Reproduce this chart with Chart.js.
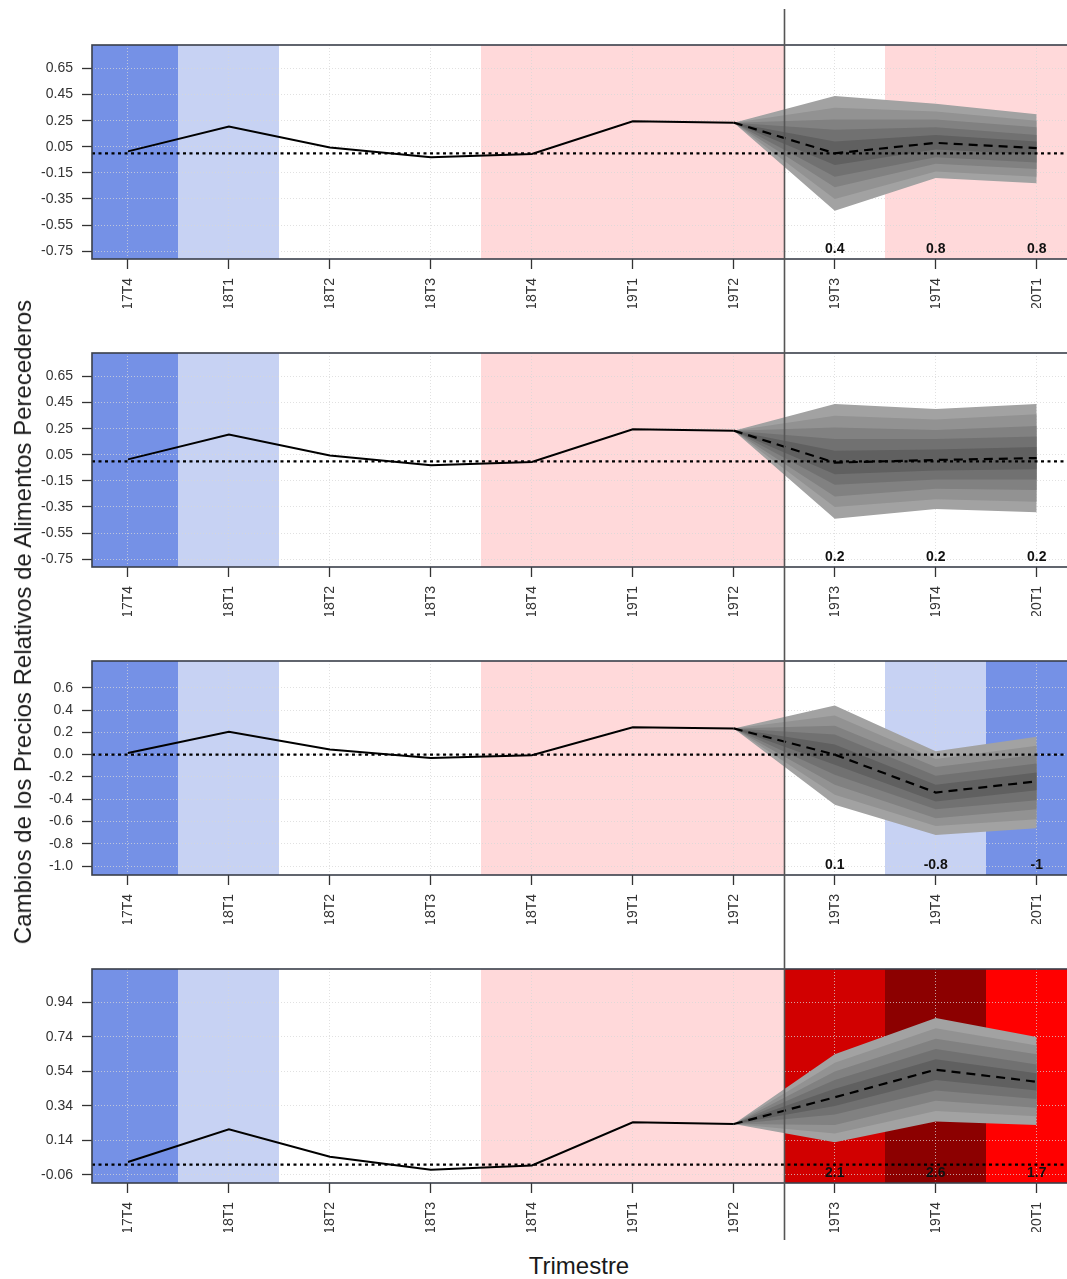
<!DOCTYPE html>
<html>
<head>
<meta charset="utf-8">
<script src="https://cdn.jsdelivr.net/npm/chart.js@4.4.1/dist/chart.umd.min.js"></script>
<style>
  body { margin: 0; background: #fff; width: 1067px; height: 1279px; position: relative; overflow: hidden; font-family: 'Liberation Sans', Arial, sans-serif; }
  .panel { position: absolute; left: 0; width: 1067px; }
  #ytitle { position: absolute; left: 23px; top: 622px; transform: translate(-50%, -50%) rotate(-90deg); font-size: 24px; white-space: nowrap; color: #1a1a1a; }
  #xtitle { position: absolute; left: 579px; top: 1266px; transform: translate(-50%, -50%); font-size: 24px; color: #1a1a1a; }
</style>
</head>
<body>
<div class="panel" style="top:0px"><canvas id="c1" width="1067" height="308"></canvas></div>
<div class="panel" style="top:308px"><canvas id="c2" width="1067" height="308"></canvas></div>
<div class="panel" style="top:616px"><canvas id="c3" width="1067" height="308"></canvas></div>
<div class="panel" style="top:924px"><canvas id="c4" width="1067" height="320"></canvas></div>
<div id="ytitle">Cambios de los Precios Relativos de Alimentos Perecederos</div>
<div id="xtitle">Trimestre</div>
<script>
// quarters on the x axis
const quarters = ['17T4', '18T1', '18T2', '18T3', '18T4', '19T1', '19T2', '19T3', '19T4', '20T1'];
// observed values 17T4..19T2 (same in all panels)
const history = [0.015, 0.205, 0.045, -0.03, -0.005, 0.245, 0.235];
// forecast points are 19T2..20T1
const forecastX = [6, 7, 8, 9];

// panel 1  (fan bands: outer -> inner)
const p1Median = [0.235, 0.00, 0.08, 0.04];
const p1Upper = [
  [0.235, 0.44, 0.38, 0.30],
  [0.235, 0.35, 0.32, 0.25],
  [0.235, 0.26, 0.26, 0.20],
  [0.235, 0.18, 0.20, 0.14],
  [0.235, 0.09, 0.14, 0.09]
];
const p1Lower = [
  [0.235, -0.44, -0.19, -0.23],
  [0.235, -0.35, -0.14, -0.18],
  [0.235, -0.26, -0.08, -0.12],
  [0.235, -0.18, -0.03, -0.07],
  [0.235, -0.09, 0.03, -0.01]
];
const p1Bands = ['azul', 'celeste', '', '', 'rosa', 'rosa', 'rosa', '', 'rosa', 'rosa'];
const p1Labels = ['0.4', '0.8', '0.8'];

// panel 2
const p2Median = [0.235, -0.01, 0.01, 0.025];
const p2Upper = [
  [0.235, 0.44, 0.40, 0.44],
  [0.235, 0.35, 0.32, 0.36],
  [0.235, 0.26, 0.24, 0.27],
  [0.235, 0.17, 0.17, 0.19],
  [0.235, 0.08, 0.09, 0.11]
];
const p2Lower = [
  [0.235, -0.44, -0.365, -0.39],
  [0.235, -0.35, -0.29, -0.31],
  [0.235, -0.27, -0.21, -0.22],
  [0.235, -0.18, -0.14, -0.14],
  [0.235, -0.10, -0.07, -0.06]
];
const p2Bands = ['azul', 'celeste', '', '', 'rosa', 'rosa', 'rosa', '', '', ''];
const p2Labels = ['0.2', '0.2', '0.2'];

// panel 3
const p3Median = [0.235, 0.00, -0.34, -0.24];
const p3Upper = [
  [0.235, 0.44, 0.03, 0.16],
  [0.235, 0.35, -0.04, 0.08],
  [0.235, 0.26, -0.11, 0.00],
  [0.235, 0.18, -0.19, -0.08],
  [0.235, 0.09, -0.27, -0.16]
];
const p3Lower = [
  [0.235, -0.45, -0.72, -0.66],
  [0.235, -0.36, -0.64, -0.58],
  [0.235, -0.27, -0.57, -0.49],
  [0.235, -0.18, -0.49, -0.41],
  [0.235, -0.09, -0.42, -0.32]
];
const p3Bands = ['azul', 'celeste', '', '', 'rosa', 'rosa', 'rosa', '', 'celeste', 'azul'];
const p3Labels = ['0.1', '-0.8', '-1'];

// panel 4
const p4Median = [0.235, 0.39, 0.55, 0.48];
const p4Upper = [
  [0.235, 0.64, 0.85, 0.74],
  [0.235, 0.59, 0.79, 0.69],
  [0.235, 0.54, 0.73, 0.64],
  [0.235, 0.49, 0.67, 0.58],
  [0.235, 0.44, 0.61, 0.53]
];
const p4Lower = [
  [0.235, 0.13, 0.25, 0.23],
  [0.235, 0.18, 0.31, 0.28],
  [0.235, 0.23, 0.37, 0.33],
  [0.235, 0.29, 0.43, 0.38],
  [0.235, 0.34, 0.49, 0.43]
];
const p4Bands = ['azul', 'celeste', '', '', 'rosa', 'rosa', 'rosa', 'rojo', 'granate', 'rojoVivo'];
const p4Labels = ['2.1', '2.6', '1.7'];

// y axes
const ticks12 = [0.65, 0.45, 0.25, 0.05, -0.15, -0.35, -0.55, -0.75];
const ticks3 = [0.6, 0.4, 0.2, 0.0, -0.2, -0.4, -0.6, -0.8, -1.0];
const ticks4 = [0.94, 0.74, 0.54, 0.34, 0.14, -0.06];

const bandColors = {
  azul: '#7591e6', celeste: '#c7d2f3', rosa: '#ffd9da',
  rojo: '#d10000', granate: '#8c0000', rojoVivo: '#ff0000'
};
const fanShades = ['#a2a2a2', '#929292', '#818181', '#717171', '#606060'];
const gridColor = 'rgba(215,215,215,0.75)';

Chart.defaults.font.family = "'Liberation Sans', Arial, sans-serif";
Chart.defaults.color = '#333';

const decor = {
  id: 'decor',
  beforeDraw(chart, args, o) {
    const { ctx, chartArea: a, scales: { x } } = chart;
    ctx.save();
    o.bands.forEach((b, i) => {
      if (!bandColors[b]) return;
      const l = Math.max(a.left, Math.round(x.getPixelForValue(i - 0.5)));
      const r = Math.min(a.right, Math.round(x.getPixelForValue(i + 0.5)));
      ctx.fillStyle = bandColors[b];
      ctx.fillRect(l, a.top, r - l, a.bottom - a.top);
    });
    ctx.restore();
  },
  afterDatasetsDraw(chart) {
    const { ctx, chartArea: a, scales: { y } } = chart;
    const y0 = y.getPixelForValue(0);
    ctx.save();
    ctx.strokeStyle = '#000';
    ctx.lineWidth = 2.2;
    ctx.setLineDash([3, 3.5]);
    ctx.beginPath();
    ctx.moveTo(a.left, y0);
    ctx.lineTo(a.right, y0);
    ctx.stroke();
    ctx.restore();
  },
  afterDraw(chart, args, o) {
    const { ctx, chartArea: a, scales: { x } } = chart;
    ctx.save();
    // plot box (open on the right, cut by the image edge)
    ctx.strokeStyle = '#3a3f4a';
    ctx.lineWidth = 1.6;
    ctx.strokeRect(a.left, a.top, a.right - a.left + 10, a.bottom - a.top);
    // numbers above the axis for the forecast quarters
    ctx.fillStyle = '#111';
    ctx.font = "bold 14px 'Liberation Sans', Arial, sans-serif";
    ctx.textAlign = 'center';
    ctx.textBaseline = 'middle';
    o.labels.forEach((t, i) => {
      ctx.fillText(t, x.getPixelForValue(7 + i), a.bottom - 10);
    });
    // vertical separator between observed and forecast
    const xs = Math.round(x.getPixelForValue(6.5)) + 0.5;
    ctx.strokeStyle = '#555';
    ctx.lineWidth = 1.6;
    ctx.beginPath();
    ctx.moveTo(xs, o.lineTop);
    ctx.lineTo(xs, o.lineBottom);
    ctx.stroke();
    ctx.restore();
  }
};

function pts(xs, ys) {
  return ys.map((v, i) => ({ x: xs[i], y: v }));
}

function makePanel(id, p) {
  const datasets = [];
  // nested fan: each level fills from its upper to its lower bound, inner levels on top
  p.upper.forEach((hi, k) => {
    datasets.push({
      data: pts(forecastX, hi), borderWidth: 0, pointRadius: 0,
      fill: datasets.length + 1, backgroundColor: fanShades[k], order: 20 - k
    });
    datasets.push({
      data: pts(forecastX, p.lower[k]), borderWidth: 0, pointRadius: 0,
      fill: false, order: 20 - k
    });
  });
  datasets.push({
    data: pts(quarters.map((q, i) => i), history),
    borderColor: '#000', borderWidth: 2, pointRadius: 0, fill: false, order: 1
  });
  datasets.push({
    data: pts(forecastX, p.median),
    borderColor: '#000', borderWidth: 2.2, borderDash: [9, 6], pointRadius: 0, fill: false, order: 0
  });

  const gridOpts = { color: gridColor, lineWidth: 1, tickLength: 10, tickColor: '#333', tickWidth: 1.3, tickBorderDash: [] };

  return new Chart(document.getElementById(id), {
    type: 'line',
    data: { datasets },
    options: {
      responsive: false,
      animation: false,
      layout: { padding: { top: 45, right: 0, bottom: p.padBottom || 0, left: 0 } },
      plugins: {
        legend: { display: false },
        tooltip: { enabled: false },
        decor: { bands: p.bands, labels: p.labels, lineTop: p.lineTop, lineBottom: p.lineBottom }
      },
      elements: { line: { tension: 0 } },
      scales: {
        x: {
          type: 'linear', min: -0.356, max: 9.3,
          afterBuildTicks: s => { s.ticks = quarters.map((q, i) => ({ value: i })); },
          afterFit: s => { s.height = 49; },
          ticks: { callback: v => quarters[v], minRotation: 90, maxRotation: 90, autoSkip: false, padding: 9, font: { size: 14 }, color: '#333' },
          grid: gridOpts,
          border: { display: false, dash: [1, 2] }
        },
        y: {
          min: p.range[0], max: p.range[1],
          afterBuildTicks: s => { s.ticks = p.ticks.map(v => ({ value: v })); },
          afterFit: s => { s.width = 92; },
          ticks: { callback: v => v.toFixed(p.dec), padding: 9, font: { size: 14 }, color: '#333' },
          grid: gridOpts,
          border: { display: false, dash: [1, 2] }
        }
      }
    },
    plugins: [decor]
  });
}

makePanel('c1', { median: p1Median, upper: p1Upper, lower: p1Lower, bands: p1Bands, labels: p1Labels,
  range: [-0.81, 0.83], ticks: ticks12, dec: 2, lineTop: 9, lineBottom: 308 });
makePanel('c2', { median: p2Median, upper: p2Upper, lower: p2Lower, bands: p2Bands, labels: p2Labels,
  range: [-0.81, 0.83], ticks: ticks12, dec: 2, lineTop: 0, lineBottom: 308 });
makePanel('c3', { median: p3Median, upper: p3Upper, lower: p3Lower, bands: p3Bands, labels: p3Labels,
  range: [-1.08, 0.84], ticks: ticks3, dec: 1, lineTop: 0, lineBottom: 308 });
makePanel('c4', { median: p4Median, upper: p4Upper, lower: p4Lower, bands: p4Bands, labels: p4Labels,
  range: [-0.107, 1.134], ticks: ticks4, dec: 2, lineTop: 0, lineBottom: 316, padBottom: 12 });
</script>
</body>
</html>
